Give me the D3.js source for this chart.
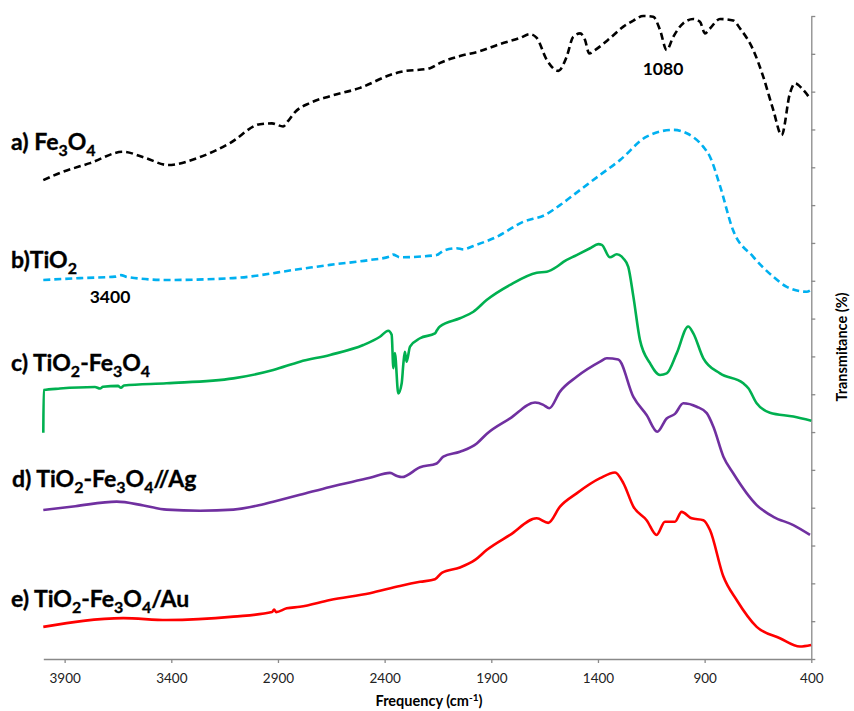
<!DOCTYPE html>
<html>
<head>
<meta charset="utf-8">
<script src="https://cdn.jsdelivr.net/npm/d3@7"></script>
<style>
  body { margin: 0; background: #fff; }
  svg { font-family: Lato, "Open Sans", sans-serif; }
</style>
</head>
<body>
<div id="viz"></div>
<script>
// x ticks (cm-1) and y grid ticks (no labels on the right axis)
const xTicks = [3900, 3400, 2900, 2400, 1900, 1400, 900, 400];
const yTicks = d3.range(0, 171, 10);

// spectra: [frequency, transmittance]
const fe3o4 = [
  [4000, 126.6], [3922, 128.5], [3781, 131.1], [3626, 134.1], [3523, 132.5], [3415, 130.6],
  [3265, 132.7], [3125, 136.4], [2984, 141.4], [2928, 141.6], [2876, 140.8], [2853, 142.2],
  [2820, 144.6], [2750, 147.0], [2656, 148.8], [2515, 151.0], [2375, 154.4], [2328, 155.2],
  [2187, 156.2], [2140, 157.6], [2047, 159.4], [1953, 160.7], [1859, 162.6], [1765, 164.2],
  [1719, 165.2], [1687, 164.2], [1640, 158.4], [1586, 155.5], [1547, 159.2], [1516, 164.5],
  [1484, 165.4], [1461, 163.7], [1441, 160.1], [1414, 161.0], [1344, 164.1], [1281, 167.2],
  [1234, 168.8], [1188, 170.0], [1141, 169.8], [1109, 166.3], [1078, 161.0], [1047, 164.5],
  [1000, 168.1], [953, 169.2], [922, 168.5], [898, 165.4], [875, 166.7], [828, 169.2],
  [766, 168.8], [734, 166.7], [672, 161.0], [625, 153.9], [578, 145.1], [539, 138.5],
  [500, 149.6], [476, 152.2], [437, 150.4], [406, 148.2]
];
const tio2 = [
  [4000, 100.2], [3828, 100.7], [3664, 101.1], [3636, 101.5], [3608, 101.0], [3422, 100.2],
  [3111, 100.7], [2797, 103.1], [2656, 104.2], [2469, 105.5], [2375, 106.4], [2361, 106.9],
  [2328, 106.2], [2156, 106.8], [2125, 107.9], [2062, 108.6], [2031, 108.3], [1984, 109.2],
  [1875, 111.6], [1750, 115.6], [1648, 117.4], [1578, 120.0], [1484, 124.0], [1390, 128.0],
  [1297, 131.9], [1172, 138.1], [1047, 139.9], [984, 139.0], [906, 135.4], [875, 132.8],
  [828, 125.1], [767, 113.4], [673, 106.4], [579, 101.1], [515, 98.4], [422, 97.1], [401, 97.6]
];
const tio2Fe3o4 = [
  [4000, 59.8], [3998, 71.1], [3922, 71.5], [3758, 71.9], [3734, 71.5], [3720, 72.0],
  [3650, 72.2], [3636, 71.7], [3622, 72.3], [3422, 72.9], [3109, 74.2], [2922, 76.4],
  [2797, 78.6], [2656, 80.4], [2500, 83.0], [2422, 85.2], [2383, 86.8], [2367, 85.7],
  [2359, 76.9], [2352, 80.9], [2336, 70.2], [2320, 72.9], [2312, 78.2], [2305, 81.2],
  [2297, 78.6], [2281, 82.6], [2234, 84.8], [2164, 86.1], [2155, 86.9], [2141, 87.9],
  [2047, 90.1], [1984, 91.8], [1922, 94.9], [1812, 98.9], [1687, 102.1], [1640, 102.4],
  [1593, 103.7], [1562, 105.0], [1500, 106.8], [1437, 108.6], [1398, 109.7], [1382, 109.5],
  [1344, 106.2], [1312, 107.0], [1281, 105.9], [1258, 103.7], [1234, 95.8], [1203, 84.3],
  [1156, 78.2], [1109, 75.1], [1078, 75.5], [1031, 80.8], [977, 87.9], [953, 86.1],
  [906, 79.5], [828, 75.5], [719, 72.9], [695, 71.6], [656, 67.6], [594, 65.1],
  [484, 64.1], [400, 63.0]
];
const tio2Fe3o4Ag = [
  [4000, 39.4], [3850, 40.4], [3656, 41.6], [3530, 40.6], [3422, 39.5], [3265, 39.2],
  [3109, 39.5], [3000, 40.5], [2922, 41.6], [2797, 43.4],
  [2656, 45.5], [2469, 47.9], [2375, 49.2], [2342, 48.4], [2319, 48.1], [2234, 50.7],
  [2156, 51.7], [2125, 53.5], [2047, 54.8], [1968, 57.0], [1922, 59.5], [1812, 63.6],
  [1695, 67.8], [1656, 67.2], [1628, 66.3], [1578, 70.7], [1500, 74.6], [1390, 78.6],
  [1359, 79.5], [1305, 79.2], [1234, 69.3], [1172, 64.5], [1122, 60.1], [1078, 63.6],
  [1039, 64.8], [1000, 67.6], [937, 66.7], [890, 65.0], [859, 61.4], [812, 53.5],
  [766, 49.1], [656, 40.7], [578, 37.6], [484, 35.4], [406, 32.8]
];
const tio2Fe3o4Au = [
  [4000, 8.5], [3625, 10.8], [3422, 10.3], [3109, 11.2], [2928, 12.4], [2918, 13.1],
  [2909, 12.4], [2859, 13.4], [2797, 13.8], [2656, 15.6], [2469, 17.4], [2328, 19.3],
  [2234, 20.4], [2164, 21.1], [2132, 22.8], [2047, 24.2], [1976, 26.2], [1922, 28.8],
  [1812, 32.8], [1687, 37.2], [1633, 36.0], [1578, 40.3], [1500, 43.8], [1390, 47.8],
  [1320, 49.3], [1281, 46.5], [1234, 40.3], [1172, 36.7], [1125, 32.8], [1086, 36.3],
  [1039, 36.3], [1008, 38.9], [961, 37.2], [906, 36.7], [875, 34.1], [812, 21.8],
  [750, 15.6], [656, 8.5], [547, 5.5], [453, 3.3], [401, 3.7]
];

const series = [
  { data: fe3o4, color: "#000000", dash: "7,4" },
  { data: tio2, color: "#00b0f0", dash: "7,4" },
  { data: tio2Fe3o4, color: "#00b050", dash: null },
  { data: tio2Fe3o4Ag, color: "#7030a0", dash: null },
  { data: tio2Fe3o4Au, color: "#ff0000", dash: null }
];

// curve labels: pieces of [text, isSubscript]
const labels = [
  { parts: [["a) Fe", 0], ["3", 1], ["O", 0], ["4", 1]], x: 11, y: 150 },
  { parts: [["b)TiO", 0], ["2", 1]], x: 11, y: 268 },
  { parts: [["c) TiO", 0], ["2", 1], ["-Fe", 0], ["3", 1], ["O", 0], ["4", 1]], x: 11, y: 371 },
  { parts: [["d) TiO", 0], ["2", 1], ["-Fe", 0], ["3", 1], ["O", 0], ["4", 1], ["//Ag", 0]], x: 12, y: 487 },
  { parts: [["e) TiO", 0], ["2", 1], ["-Fe", 0], ["3", 1], ["O", 0], ["4", 1], ["/Au", 0]], x: 11, y: 607 }
];

const width = 854, height = 711;
const svg = d3.select("#viz").append("svg")
  .attr("width", width)
  .attr("height", height);

const x = d3.scaleLinear().domain([4000, 400]).range([43.3, 811.3]);
const y = d3.scaleLinear().domain([0, 170]).range([659, 16]);

const axisColor = "#898989";

// bottom axis
const gx = svg.append("g")
  .attr("transform", "translate(0,659)")
  .call(d3.axisBottom(x).tickValues(xTicks).tickSize(4).tickSizeOuter(0).tickPadding(10).tickFormat(d3.format("d")));
gx.select(".domain").attr("stroke", axisColor).attr("stroke-width", 1.3);
gx.selectAll(".tick line").attr("stroke", axisColor).attr("stroke-width", 1.3);
gx.selectAll(".tick text").attr("font-size", 13.5).attr("fill", "#222").attr("font-family", "Lato, sans-serif");

// right axis, ticks only
const gy = svg.append("g")
  .attr("transform", "translate(811.3,0)")
  .call(d3.axisRight(y).tickValues(yTicks).tickSize(4).tickSizeOuter(0).tickFormat(""));
gy.select(".domain").attr("stroke", axisColor).attr("stroke-width", 1.3);
gy.selectAll(".tick line").attr("stroke", axisColor).attr("stroke-width", 1.3);

// lines
const line = d3.line()
  .x(d => x(d[0]))
  .y(d => y(d[1]))
  .curve(d3.curveMonotoneX);

svg.append("g")
  .selectAll("path")
  .data(series)
  .join("path")
  .attr("fill", "none")
  .attr("stroke", d => d.color)
  .attr("stroke-width", 2.6)
  .attr("stroke-dasharray", d => d.dash)
  .attr("stroke-linejoin", "round")
  .attr("d", d => line(d.data));

// curve labels
const lab = svg.append("g")
  .attr("font-weight", "bold")
  .attr("font-size", 23)
  .attr("fill", "#000")
  .attr("stroke", "#000")
  .attr("stroke-width", 0.35);

labels.forEach(l => {
  const t = lab.append("text").attr("x", l.x).attr("y", l.y);
  let down = false;
  l.parts.forEach(([s, sub]) => {
    const ts = t.append("tspan").text(s);
    if (sub && !down) { ts.attr("dy", 6).attr("font-size", 16); down = true; }
    else if (!sub && down) { ts.attr("dy", -6); down = false; }
    else if (sub) ts.attr("font-size", 16);
  });
});

// peak annotations
svg.append("text").attr("x", 110).attr("y", 303).attr("text-anchor", "middle")
  .attr("font-weight", "bold").attr("font-size", 17.5).text("3400");
svg.append("text").attr("x", 663).attr("y", 75).attr("text-anchor", "middle")
  .attr("font-weight", "bold").attr("font-size", 17.5).text("1080");

// axis titles
const xt = svg.append("text").attr("x", 429).attr("y", 706).attr("text-anchor", "middle")
  .attr("font-weight", "bold").attr("font-size", 14.5);
xt.append("tspan").text("Frequency (cm");
xt.append("tspan").attr("dy", -5).attr("font-size", 10).text("-1");
xt.append("tspan").attr("dy", 5).text(")");

svg.append("text")
  .attr("transform", "translate(847,347) rotate(-90)")
  .attr("text-anchor", "middle")
  .attr("font-weight", "bold").attr("font-size", 14.5)
  .text("Transmitance (%)");
</script>
</body>
</html>
